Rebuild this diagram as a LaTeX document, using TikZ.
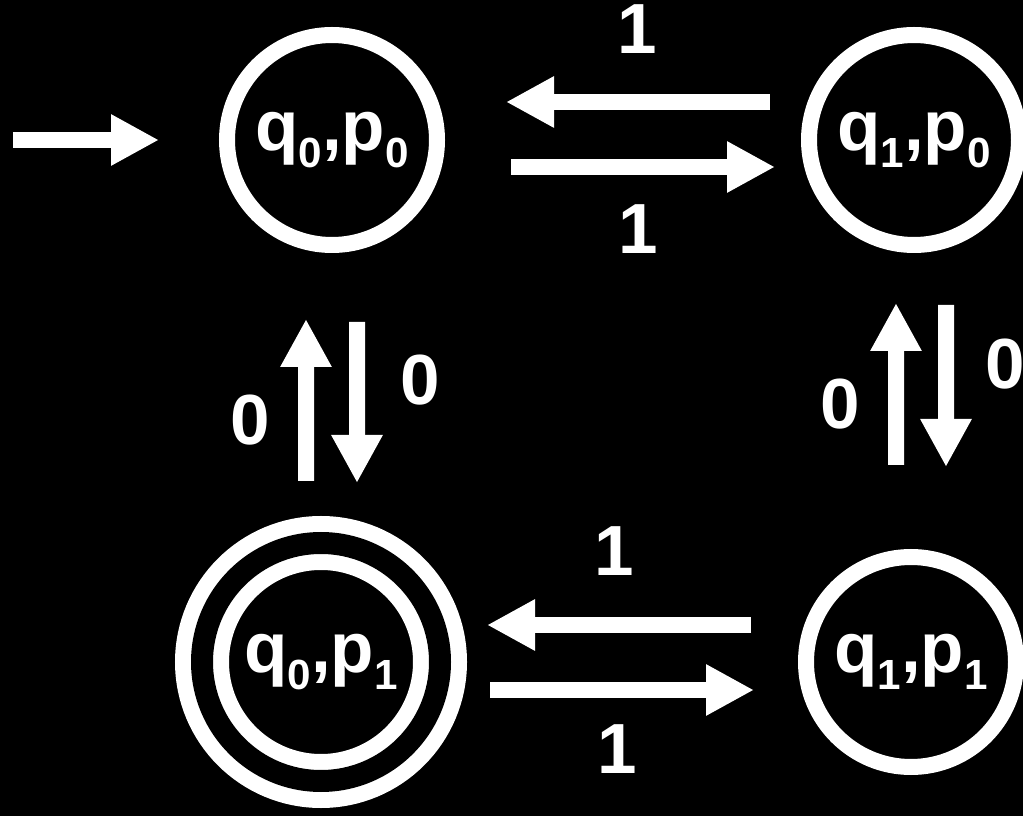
\documentclass[tikz,border=0pt]{standalone}
\usepackage{fontspec}
\setmainfont{Liberation Sans}
\usepackage{tikz}
\usetikzlibrary{arrows.meta, positioning}
\newcommand{\sub}[1]{\raisebox{-10pt}{\fontsize{24}{24}\selectfont #1}}
\tikzset{
  state/.style={circle, draw=white, line width=0.32cm, minimum size=4.2cm,
    inner sep=0pt, outer sep=0.16cm, text=white,
    font=\bfseries\fontsize{40.4}{48}\selectfont},
  accepting/.style={state, double=black, double distance=0.44cm,
    minimum size=4.76cm, outer sep=0.54cm},
  arrow/.style={-{Triangle[length=0.96cm, width=0.96cm]}, line width=0.32cm, white},
  lbl/.style={inner sep=0pt, text=white, font=\bfseries\fontsize{40.4}{48}\selectfont}
}

\begin{document}
\begin{tikzpicture}[on grid]
  \fill[black] (0,0) rectangle (20.46,-16.32);
  \useasboundingbox (0,0) rectangle (20.46,-16.32);
  \coordinate (start) at (0.26,-2.8);
  \node[state] (q00) at (6.64,-2.8) {q\sub{0},p\sub{0}};
  \node[state, right=11.64cm of q00] (q10) {q\sub{1},p\sub{0}};
  \node[accepting, below left=10.44cm and 0.22cm of q00] (q01) {q\sub{0},p\sub{1}};
  \node[state, right=11.8cm of q01] (q11) {q\sub{1},p\sub{1}};

  % start
  \draw[arrow, shorten >=1.2cm] (start) -- (q00);

  % top row
  \draw[arrow, shorten <=0.62cm, shorten >=1.22cm]
    ([yshift=0.76cm]q10.west) -- ([yshift=0.76cm]q00.east)
    node[lbl, pos=0.46, above=0.8cm] {1};
  \draw[arrow, shorten <=1.32cm, shorten >=0.52cm]
    ([yshift=-0.54cm]q00.east) -- ([yshift=-0.54cm]q10.west)
    node[lbl, pos=0.542, below=0.6cm] {1};

  % bottom row
  \draw[arrow, shorten <=0.94cm, shorten >=0.4cm]
    ([yshift=0.74cm]q11.west) -- ([yshift=0.74cm]q01.east)
    node[lbl, pos=0.556, above=0.82cm] {1};
  \draw[arrow, shorten <=0.46cm, shorten >=0.88cm]
    ([yshift=-0.56cm]q01.east) -- ([yshift=-0.56cm]q11.west)
    node[lbl, pos=0.453, below=0.54cm] {1};

  % left column
  \draw[arrow, shorten <=0.7cm, shorten >=1.32cm]
    ([xshift=-0.3cm]q01.north) -- ([xshift=-0.52cm]q00.south)
    node[lbl, pos=0.365, left=0.56cm] {0};
  \draw[arrow, shorten <=1.38cm, shorten >=0.66cm]
    ([xshift=0.5cm]q00.south) -- ([xshift=0.72cm]q01.north)
    node[lbl, pos=0.483, right=0.7cm] {0};

  % right column
  \draw[arrow, shorten <=1.68cm, shorten >=1.0cm]
    ([xshift=-0.3cm]q11.north) -- ([xshift=-0.36cm]q10.south)
    node[lbl, pos=0.49, left=0.56cm] {0};
  \draw[arrow, shorten <=1.04cm, shorten >=1.64cm]
    ([xshift=0.64cm]q10.south) -- ([xshift=0.7cm]q11.north)
    node[lbl, pos=0.375, right=0.62cm] {0};
\end{tikzpicture}
\end{document}
